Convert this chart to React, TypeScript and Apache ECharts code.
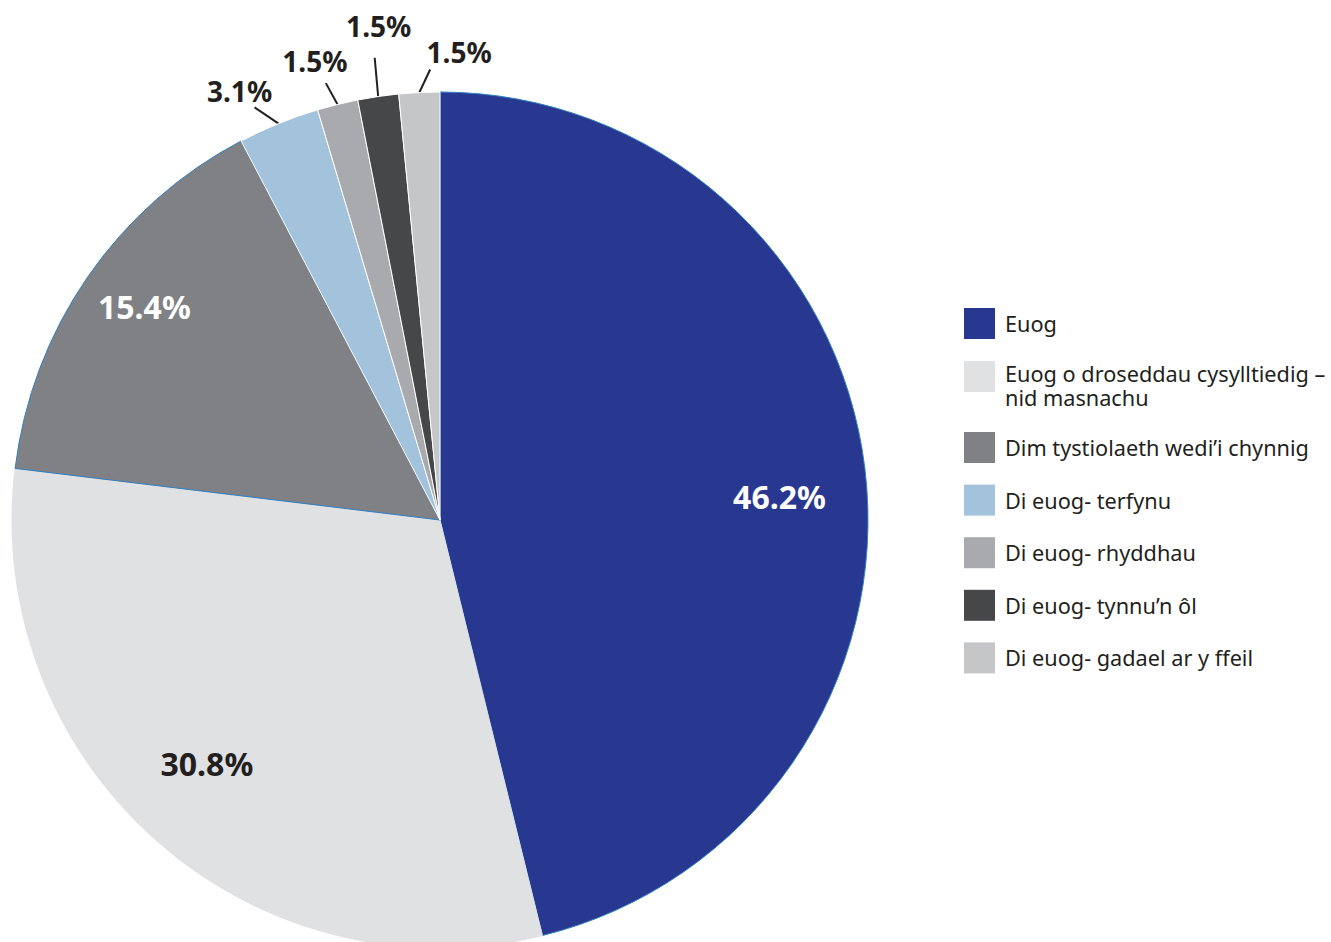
import React, { useEffect, useRef } from 'react';
import * as echarts from 'echarts';

const categories = [
  'Euog',
  'Euog o droseddau cysylltiedig – nid masnachu',
  'Dim tystiolaeth wedi’i chynnig',
  'Di euog- terfynu',
  'Di euog- rhyddhau',
  'Di euog- tynnu’n ôl',
  'Di euog- gadael ar y ffeil',
];
const values = [30, 20, 10, 2, 1, 1, 1];
const colors = ['#283891', '#e0e1e3', '#808184', '#a3c2dc', '#a9aaad', '#464749', '#c5c6c8'];
const borderColors = ['#2f7fc1', '#e0e1e3', '#2f7fc1', '#ffffff', '#ffffff', '#ffffff', '#ffffff'];
const insideIdx = [0, 1, 2];
const insideLabelColors = ['#ffffff', '#231f20', '#ffffff'];

const FONT = '"Noto Sans", "Open Sans", sans-serif';
const TXT = '#231f20';

// label nudges (layout only)
const insideNudge: number[][] = [[1, 18], [-7, -12], [-15, -20]];
// outside labels: label shift from the radial line end, and leader-line end relative to label centre
const outsideNudge: Record<number, number[]> = { 3: [-30, -10], 4: [-17, -20], 5: [4, -47], 6: [41, -17] };
const outsideLineEnd: Record<number, number[]> = { 3: [15, 16], 4: [11, 22], 5: [-4, 32], 6: [-29, 18] };

export default function App() {
  const ref = useRef<HTMLDivElement>(null);
  useEffect(() => {
    if (!ref.current) return;
    const chart = echarts.init(ref.current, null, { renderer: 'svg' });
    const R = 428;
    const CX = 440;
    const CY = 520;
    const LINE_LEN = 24;
    const total = values.reduce((a, b) => a + b, 0);
    const midAngles: number[] = [];
    let acc = 0;
    values.forEach((v) => {
      midAngles.push(((acc + v / 2) / total) * Math.PI * 2);
      acc += v;
    });

    const mainData = categories.map((name, i) => ({
      name,
      value: values[i],
      itemStyle: { color: colors[i], borderColor: borderColors[i], borderWidth: 1 },
      label: { show: !insideIdx.includes(i) },
      labelLine: { show: !insideIdx.includes(i) },
    }));
    const overlayData = categories.map((name, i) => ({
      name,
      value: values[i],
      label: insideIdx.includes(i)
        ? { show: true, color: insideLabelColors[i] }
        : { show: false },
    }));
    const legendText = {
      fontFamily: FONT,
      fontSize: 21.7,
      lineHeight: 24,
      color: TXT,
      padding: [0, 0, 0, 5],
    };
    const legendBase = {
      orient: 'vertical',
      left: 964,
      padding: 0,
      itemWidth: 31,
      itemHeight: 31,
      icon: 'rect',
      selectedMode: false,
      itemStyle: { borderWidth: 0 },
      textStyle: legendText,
    };
    chart.setOption({
      animation: false,
      legend: [
        { ...legendBase, top: 308, data: [categories[0]] },
        {
          ...legendBase,
          top: 361,
          itemHeight: 49,
          icon: 'path://M0 0H31V31H0Z M0 49H0.01V49.01H0Z',
          data: [categories[1]],
          formatter: (name: string) => name.replace(' – nid', ' –\nnid'),
        },
        { ...legendBase, top: 432, itemGap: 21.6, data: categories.slice(2) },
      ],
      series: [
        {
          type: 'pie',
          name: 'main',
          center: [CX, CY],
          radius: R,
          startAngle: 90,
          clockwise: true,
          percentPrecision: 1,
          avoidLabelOverlap: false,
          label: {
            position: 'outside',
            formatter: '{d}%',
            fontFamily: FONT,
            fontSize: 28,
            fontWeight: 'bold',
            color: TXT,
          },
          labelLine: {
            length: LINE_LEN,
            length2: 0,
            smooth: false,
            lineStyle: { color: TXT, width: 2 },
          },
          labelLayout: (params: any) => {
            const i = params.dataIndex;
            const n = outsideNudge[i];
            const le = outsideLineEnd[i];
            if (!n || !le) return {};
            const a = midAngles[i];
            const sx = CX + R * Math.sin(a);
            const sy = CY - R * Math.cos(a);
            const ex = CX + (R + LINE_LEN) * Math.sin(a);
            const ey = CY - (R + LINE_LEN) * Math.cos(a);
            const tx = ex + n[0];
            const ty = ey + n[1];
            return {
              x: tx,
              y: ty,
              align: 'center',
              verticalAlign: 'middle',
              labelLinePoints: [[sx, sy], [tx + le[0], ty + le[1]]],
            };
          },
          emphasis: { disabled: true },
          data: mainData,
        },
        {
          type: 'pie',
          name: 'labels',
          center: [CX, CY],
          radius: [248, R],
          startAngle: 90,
          clockwise: true,
          percentPrecision: 1,
          silent: true,
          itemStyle: { color: 'rgba(0,0,0,0)' },
          label: {
            position: 'inside',
            formatter: '{d}%',
            fontFamily: FONT,
            fontSize: 32,
            fontWeight: 'bold',
          },
          labelLine: { show: false },
          labelLayout: (params: any) => {
            const n = insideNudge[params.dataIndex];
            return n ? { dx: n[0], dy: n[1] } : {};
          },
          emphasis: { disabled: true },
          data: overlayData,
        },
      ],
    });
    return () => chart.dispose();
  }, []);
  return (
    <div
      ref={ref}
      style={{ position: 'fixed', left: 0, top: 0, width: 1331, height: 942, background: '#fff' }}
    />
  );
}
